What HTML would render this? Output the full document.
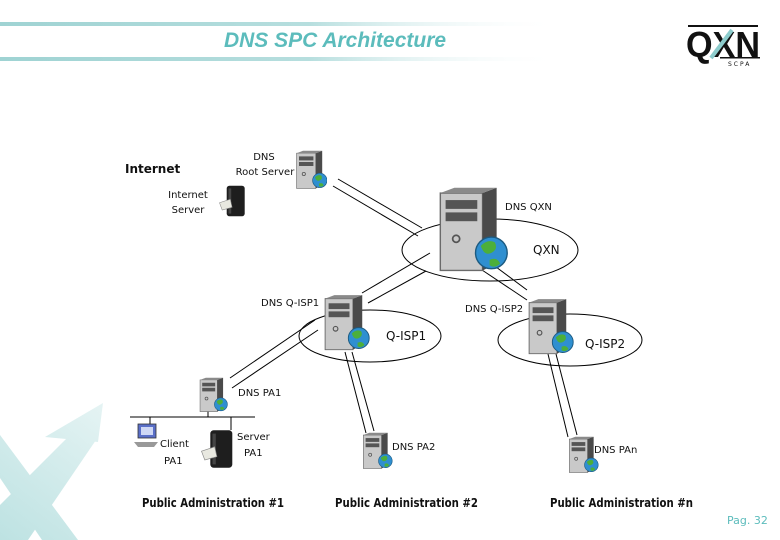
<!DOCTYPE html>
<html><head><meta charset="utf-8"><style>
html,body{margin:0;padding:0;background:#fff;}
svg{display:block;font-family:"DejaVu Sans","Liberation Sans",sans-serif;}
</style></head><body>
<svg width="780" height="540" viewBox="0 0 780 540" xmlns="http://www.w3.org/2000/svg">
<defs>
<linearGradient id="bar" x1="0" x2="1" y1="0" y2="0">
<stop offset="0" stop-color="#9fd3d3"/><stop offset="0.55" stop-color="#b6dede"/><stop offset="1" stop-color="#ffffff" stop-opacity="0"/>
</linearGradient>
<linearGradient id="wm" gradientUnits="userSpaceOnUse" x1="0" y1="540" x2="105" y2="400">
<stop offset="0" stop-color="#bde2e2"/><stop offset="1" stop-color="#e6f4f4"/>
</linearGradient>
<symbol id="srv" viewBox="0 0 40 50">
<polygon points="2,4 26,4 26,48 2,48" fill="#c9c9c9" stroke="#6a6a6a" stroke-width="0.8"/>
<polygon points="26,4 34,1 34,44 26,48" fill="#4a4a4a"/>
<polygon points="2,4 10,1 34,1 26,4" fill="#8a8a8a"/>
<rect x="5" y="8" width="18" height="5" fill="#555"/>
<rect x="5" y="15" width="18" height="5" fill="#555"/>
<circle cx="11" cy="30" r="2" fill="none" stroke="#555"/>
<circle cx="31" cy="38" r="9" fill="#2f8fd0" stroke="#1c5a80" stroke-width="0.8"/>
<path d="M25,34 q4,-4 8,-2 q2,4 -2,6 q-4,2 -6,-4z M30,42 q4,-2 6,2 q-3,3 -6,1z" fill="#4caf3a"/>
</symbol>
<symbol id="blk" viewBox="0 0 30 40">
<rect x="8" y="3" width="20" height="34" rx="3" fill="#1e1e1e"/>
<rect x="10" y="6" width="3" height="28" fill="#444"/>
<polygon points="0,22 12,18 14,27 3,30" fill="#e8e8e0" stroke="#888" stroke-width="0.6"/>
</symbol>
</defs>

<!-- watermark X -->
<g fill="url(#wm)">
<polygon points="0,435 0,478 42,540 78,540"/>
<polygon points="0,505 0,540 28,540 96,440 68,437"/>
<polygon points="45,437 103,403 98,442"/>
</g>

<!-- header bars -->
<rect x="0" y="22" width="560" height="4" fill="url(#bar)"/>
<rect x="0" y="57" width="560" height="4" fill="url(#bar)"/>
<text x="335" y="47" text-anchor="middle" font-family="Liberation Sans,sans-serif" font-style="italic" font-weight="bold" font-size="21" fill="#5cbcbc">DNS SPC Architecture</text>

<!-- logo -->
<rect x="688" y="25" width="70" height="2" fill="#111"/>
<text x="686" y="57" font-family="Liberation Sans,sans-serif" font-weight="bold" font-size="36" fill="#111" textLength="74" lengthAdjust="spacingAndGlyphs">QXN</text>
<line x1="711" y1="58" x2="732" y2="30" stroke="#8ccccc" stroke-width="4"/>
<rect x="720" y="57" width="40" height="1.5" fill="#111"/>
<text x="728" y="66" font-size="6" fill="#111" letter-spacing="2">SCPA</text>

<!-- ellipses -->
<ellipse cx="490" cy="250" rx="88" ry="31" fill="none" stroke="#000" stroke-width="1"/>
<ellipse cx="370" cy="336" rx="71" ry="26" fill="none" stroke="#000" stroke-width="1"/>
<ellipse cx="570" cy="340" rx="72" ry="26" fill="none" stroke="#000" stroke-width="1"/>

<!-- connectors -->
<g stroke="#000" stroke-width="1" fill="none">
<line x1="338" y1="179" x2="422" y2="228"/>
<line x1="333" y1="186" x2="418" y2="236"/>
<line x1="430" y1="253" x2="362" y2="293"/>
<line x1="426" y1="271" x2="368" y2="303"/>
<line x1="482" y1="270" x2="527" y2="300"/>
<line x1="492" y1="264" x2="527" y2="290"/>
<line x1="315" y1="320" x2="230" y2="378"/>
<line x1="318" y1="330" x2="232" y2="388"/>
<line x1="345" y1="352" x2="366" y2="433"/>
<line x1="352" y1="352" x2="374" y2="431"/>
<line x1="548" y1="354" x2="568" y2="437"/>
<line x1="556" y1="354" x2="577" y2="435"/>
<line x1="130" y1="417" x2="255" y2="417"/>
<line x1="208" y1="405" x2="208" y2="417"/>
<line x1="150" y1="417" x2="150" y2="425"/>
<line x1="231" y1="417" x2="231" y2="430"/>
</g>

<!-- servers -->
<use href="#srv" x="295" y="150" width="32" height="40"/>
<use href="#blk" x="218" y="183" width="30" height="36"/>
<use href="#srv" x="428" y="186" width="88" height="88"/>
<use href="#srv" x="320" y="294" width="52" height="58"/>
<use href="#srv" x="522" y="298" width="56" height="58"/>
<use href="#srv" x="198" y="377" width="30" height="36"/>
<use href="#srv" x="360" y="432" width="34" height="38"/>
<use href="#srv" x="566" y="436" width="34" height="38"/>
<use href="#blk" x="200" y="427" width="36" height="44"/>
<!-- client -->
<g>
<rect x="138" y="424" width="18" height="14" fill="#5a6fc8" stroke="#333" stroke-width="0.8"/>
<rect x="141" y="427" width="12" height="8" fill="#cfd8f5"/>
<polygon points="134,442 158,442 154,447 138,447" fill="#999"/>
</g>

<!-- labels -->
<g font-size="10" fill="#111">
<text x="264" y="160" text-anchor="middle">DNS</text>
<text x="265" y="175" text-anchor="middle">Root Server</text>
<text x="188" y="198" text-anchor="middle">Internet</text>
<text x="188" y="213" text-anchor="middle">Server</text>
<text x="505" y="210">DNS QXN</text>
<text x="261" y="306">DNS Q-ISP1</text>
<text x="465" y="312">DNS Q-ISP2</text>
<text x="238" y="396">DNS PA1</text>
<text x="160" y="447">Client</text>
<text x="164" y="464">PA1</text>
<text x="237" y="440">Server</text>
<text x="244" y="456">PA1</text>
<text x="392" y="450">DNS PA2</text>
<text x="594" y="453">DNS PAn</text>
</g>
<g font-size="12" font-weight="bold" fill="#111">
<text x="125" y="173">Internet</text>
</g>
<g font-size="12" fill="#111">
<text x="533" y="254">QXN</text>
<text x="386" y="340">Q-ISP1</text>
<text x="585" y="348">Q-ISP2</text>
</g>
<g font-size="12" fill="#111" font-weight="bold">
<text x="142" y="507" textLength="142" lengthAdjust="spacingAndGlyphs">Public Administration #1</text>
<text x="335" y="507" textLength="143" lengthAdjust="spacingAndGlyphs">Public Administration #2</text>
<text x="550" y="507" textLength="143" lengthAdjust="spacingAndGlyphs">Public Administration #n</text>
</g>
<text x="727" y="524" font-size="11" fill="#5cbcbc">Pag. 32</text>
</svg>
</body></html>
